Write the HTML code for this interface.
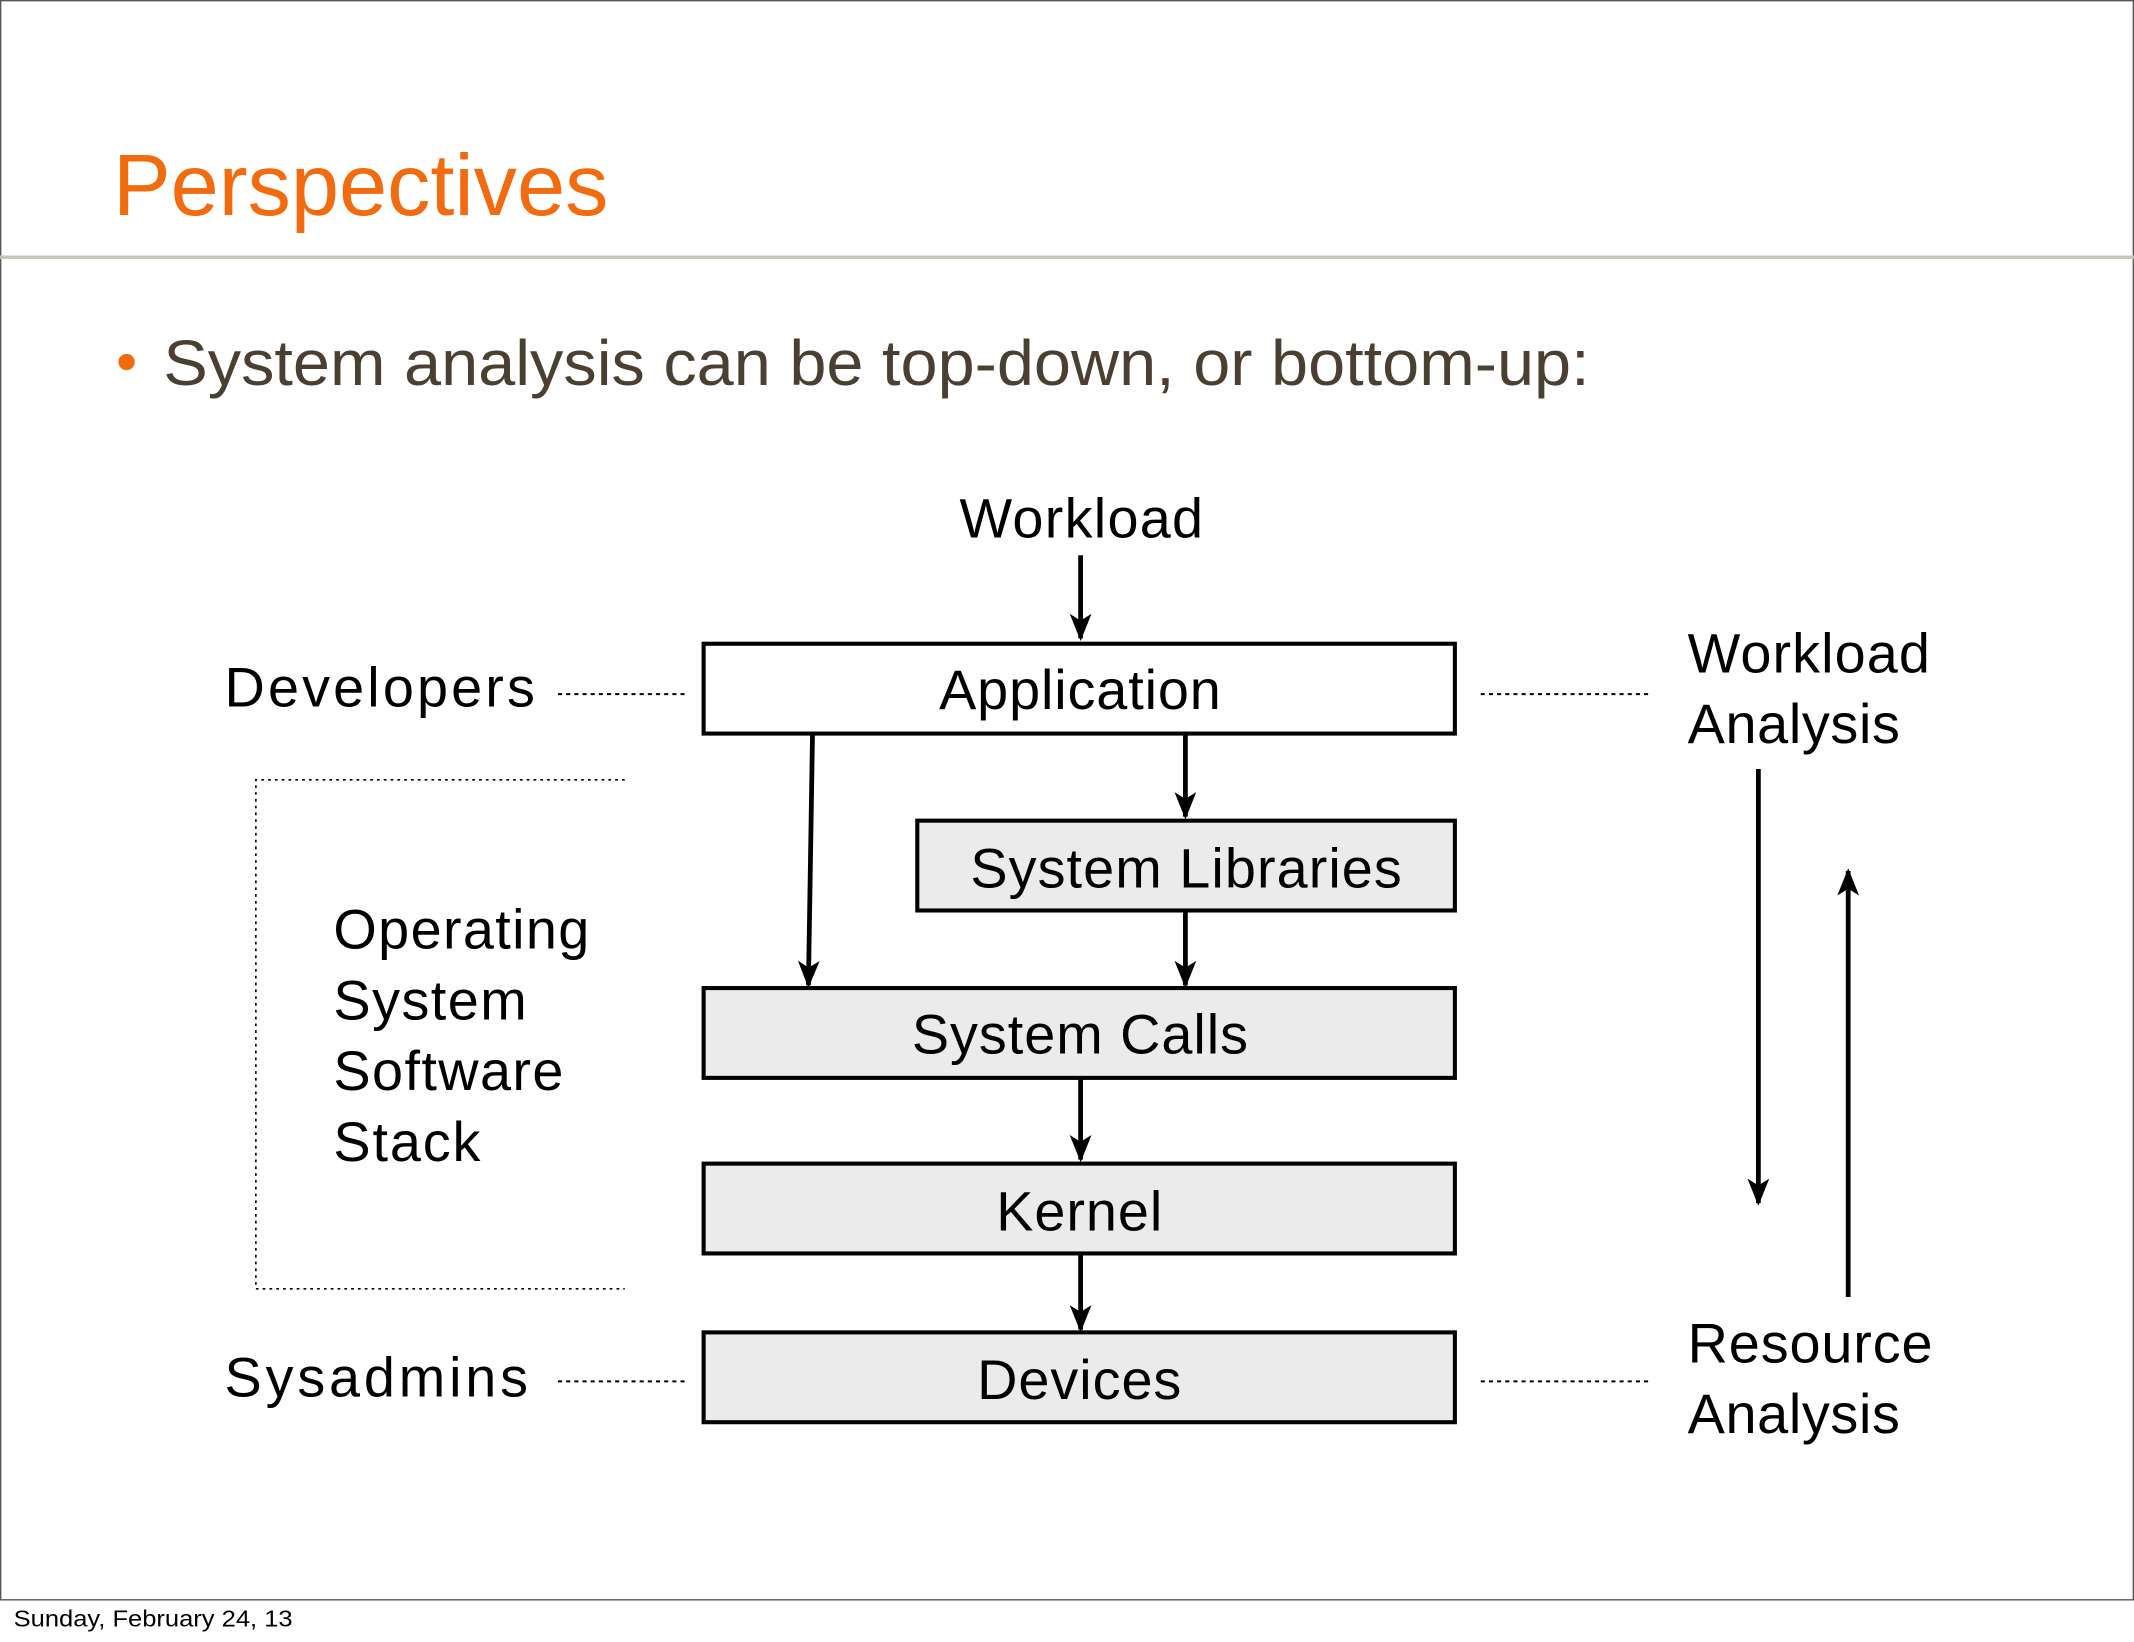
<!DOCTYPE html>
<html><head><style>html,body{margin:0;padding:0;background:#fff}svg{display:block}</style></head><body>
<svg width="2134" height="1642" viewBox="0 0 1568 1206.5" preserveAspectRatio="none" xmlns="http://www.w3.org/2000/svg" font-family="Liberation Sans, sans-serif">
<defs>
<marker id="b" markerWidth="22" markerHeight="22" refX="18" refY="11" orient="auto" markerUnits="userSpaceOnUse" viewBox="0 0 22 22"><path d="M0,3 L20,11 L0,19 L5,11 z" fill="#000"/></marker></defs>
<rect x="0.5" y="0.5" width="1567" height="1175" fill="#fff" stroke="#555" stroke-width="1"/>
<text x="83" y="158" font-size="64" fill="#f26b0f" textLength="364" lengthAdjust="spacingAndGlyphs">Perspectives</text>
<line x1="0" y1="189" x2="1568" y2="189" stroke="#c8c4bc" stroke-width="2.5"/>
<circle cx="93" cy="266" r="6" fill="#f26b0f"/>
<text x="120" y="283" font-size="47" fill="#4a3f30" textLength="1048" lengthAdjust="spacingAndGlyphs">System analysis can be top-down, or bottom-up:</text>
<g font-size="41" fill="#000" lengthAdjust="spacingAndGlyphs">
<text x="705" y="395" textLength="179">Workload</text>
<text x="165" y="519" textLength="228">Developers</text>
<text x="165" y="1026" textLength="223">Sysadmins</text>
<text x="1240" y="494" textLength="178">Workload</text><text x="1240" y="546" textLength="156">Analysis</text>
<text x="1240" y="1001" textLength="180">Resource</text><text x="1240" y="1053" textLength="156">Analysis</text>
<text x="245" y="697" textLength="188">Operating</text><text x="245" y="749" textLength="142">System</text><text x="245" y="801" textLength="169">Software</text><text x="245" y="853" textLength="108">Stack</text>
</g>
<g stroke="#000" stroke-width="3">
<rect x="517" y="473" width="552" height="66" fill="#fff"/>
<rect x="674" y="603" width="395" height="66" fill="#ebebeb"/>
<rect x="517" y="726" width="552" height="66" fill="#ebebeb"/>
<rect x="517" y="855" width="552" height="66" fill="#ebebeb"/>
<rect x="517" y="979" width="552" height="66" fill="#ebebeb"/>
</g>
<g font-size="41" fill="#000" lengthAdjust="spacingAndGlyphs">
<text x="690" y="521" textLength="207">Application</text>
<text x="713" y="652" textLength="317">System Libraries</text>
<text x="670" y="774" textLength="247">System Calls</text>
<text x="732" y="904" textLength="122">Kernel</text>
<text x="718" y="1028" textLength="150">Devices</text>
</g>
<g stroke="#000" stroke-width="3.5" marker-end="url(#b)">
<line x1="794" y1="408" x2="794" y2="469"/>
<line x1="597" y1="540" x2="594" y2="724"/>
<line x1="871" y1="540" x2="871" y2="600"/>
<line x1="871" y1="670" x2="871" y2="724"/>
<line x1="794" y1="793" x2="794" y2="852"/>
<line x1="794" y1="922" x2="794" y2="977"/>
<line x1="1292" y1="565" x2="1292" y2="884"/>
<line x1="1358" y1="953" x2="1358" y2="640"/>
</g>
<g stroke="#000" stroke-width="1.5" stroke-dasharray="3,3" fill="none">
<line x1="410" y1="510" x2="506" y2="510"/>
<line x1="410" y1="1015" x2="506" y2="1015"/>
<line x1="1088" y1="510" x2="1212" y2="510"/>
<line x1="1088" y1="1015" x2="1212" y2="1015"/>
</g>
<path d="M459,573 H188 V947 H459" stroke="#000" stroke-width="1.2" stroke-dasharray="2,3" fill="none"/>
<text x="10" y="1195" font-size="17" fill="#000" textLength="205" lengthAdjust="spacingAndGlyphs">Sunday, February 24, 13</text>
</svg>
</body></html>
